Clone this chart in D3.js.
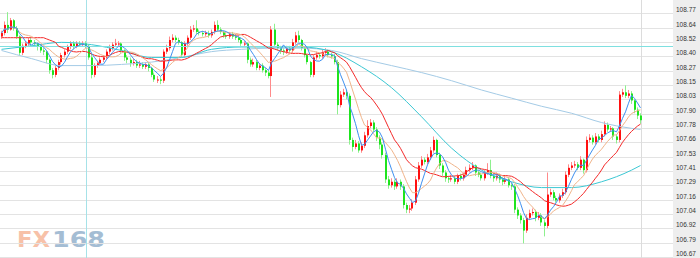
<!DOCTYPE html>
<html>
<head>
<meta charset="utf-8">
<script src="https://cdnjs.cloudflare.com/ajax/libs/d3/7.8.5/d3.min.js"></script>
<style>
  body { margin: 0; background: #fff; }
  svg { display: block; }
</style>
</head>
<body>
<div id="chart"></div>
<script>
// hourly candles (oldest first)
var opens = [
108.57,108.60,108.67,108.63,108.71,108.64,108.57,108.43,108.49,108.51,
108.54,108.52,108.51,108.48,108.45,108.44,108.37,108.28,108.24,108.30,
108.35,108.41,108.44,108.48,108.51,108.48,108.51,108.50,108.51,108.49,
108.39,108.24,108.32,108.34,108.37,108.39,108.44,108.47,108.50,108.51,
108.51,108.45,108.39,108.37,108.34,108.35,108.32,108.33,108.31,108.33,
108.30,108.24,108.20,108.20,108.19,108.44,108.47,108.54,108.56,108.54,
108.52,108.41,108.51,108.56,108.63,108.64,108.61,108.60,108.59,108.60,
108.58,108.61,108.67,108.63,108.61,108.58,108.57,108.59,108.57,108.56,
108.54,108.51,108.51,108.37,108.33,108.35,108.30,108.32,108.28,108.26,
108.23,108.63,108.50,108.47,108.45,108.44,108.47,108.45,108.52,108.58,
108.54,108.47,108.41,108.35,108.24,108.39,108.41,108.40,108.43,108.44,
108.41,108.40,108.35,107.98,108.07,108.09,108.06,107.68,107.62,107.65,
107.59,107.63,107.72,107.80,107.83,107.77,107.70,107.64,107.55,107.34,
107.29,107.32,107.28,107.32,107.28,107.12,107.08,107.09,107.14,107.34,
107.46,107.51,107.49,107.53,107.59,107.68,107.55,107.46,107.40,107.35,
107.34,107.35,107.32,107.37,107.35,107.38,107.42,107.44,107.46,107.40,
107.38,107.35,107.40,107.42,107.37,107.35,107.37,107.34,107.32,107.34,
107.29,107.28,107.08,107.03,106.99,106.90,107.01,107.05,107.06,107.01,
107.03,106.97,106.94,107.21,107.23,107.18,107.16,107.20,107.23,107.38,
107.44,107.46,107.47,107.44,107.51,107.42,107.68,107.70,107.66,107.71,
107.68,107.73,107.81,107.77,107.78,107.71,107.68,108.07,108.09,108.06,
108.08,108.02,107.94,107.89
];
var highs = [
108.62,108.70,108.78,108.73,108.72,108.66,108.58,108.51,108.53,108.56,
108.56,108.54,108.52,108.50,108.47,108.45,108.38,108.30,108.32,108.37,
108.43,108.46,108.50,108.53,108.53,108.53,108.53,108.53,108.53,108.50,
108.43,108.34,108.36,108.39,108.41,108.46,108.50,108.52,108.55,108.53,
108.52,108.46,108.41,108.39,108.38,108.37,108.36,108.35,108.35,108.35,
108.31,108.26,108.23,108.22,108.46,108.50,108.57,108.59,108.58,108.56,
108.53,108.53,108.58,108.66,108.67,108.71,108.63,108.62,108.62,108.62,
108.63,108.70,108.71,108.65,108.62,108.60,108.61,108.61,108.59,108.58,
108.56,108.53,108.52,108.39,108.38,108.37,108.34,108.34,108.30,108.28,
108.66,108.68,108.52,108.49,108.47,108.49,108.49,108.55,108.61,108.62,
108.55,108.48,108.42,108.36,108.41,108.44,108.43,108.46,108.47,108.46,
108.43,108.42,108.37,108.10,108.12,108.11,108.08,107.70,107.68,107.67,
107.66,107.75,107.85,107.86,107.85,107.79,107.72,107.66,107.57,107.37,
107.35,107.34,107.35,107.34,107.30,107.14,107.12,107.17,107.37,107.49,
107.54,107.53,107.56,107.62,107.71,107.69,107.57,107.48,107.42,107.37,
107.38,107.37,107.39,107.39,107.40,107.45,107.47,107.49,107.47,107.42,
107.40,107.42,107.48,107.51,107.39,107.40,107.39,107.36,107.37,107.36,
107.31,107.30,107.10,107.05,107.01,107.04,107.08,107.09,107.08,107.06,
107.05,106.99,107.40,107.26,107.25,107.20,107.22,107.26,107.41,107.47,
107.49,107.50,107.49,107.54,107.52,107.71,107.73,107.72,107.74,107.73,
107.76,107.84,107.83,107.80,107.79,107.73,108.10,108.12,108.15,108.11,
108.10,108.03,107.96,107.91
];
var lows = [
108.55,108.58,108.60,108.62,108.62,108.55,108.41,108.41,108.47,108.49,
108.49,108.48,108.45,108.43,108.41,108.34,108.25,108.21,108.22,108.28,
108.33,108.39,108.42,108.46,108.46,108.47,108.48,108.48,108.47,108.37,
108.21,108.22,108.30,108.32,108.35,108.37,108.42,108.45,108.48,108.49,
108.43,108.36,108.34,108.31,108.32,108.30,108.30,108.29,108.29,108.27,
108.22,108.18,108.17,108.16,108.17,108.42,108.45,108.52,108.52,108.50,
108.39,108.39,108.49,108.54,108.61,108.59,108.58,108.57,108.57,108.56,
108.56,108.59,108.61,108.59,108.56,108.55,108.55,108.55,108.54,108.52,
108.49,108.48,108.34,108.31,108.31,108.28,108.28,108.26,108.23,108.21,
108.05,108.48,108.45,108.42,108.41,108.42,108.43,108.43,108.50,108.52,
108.45,108.39,108.33,108.22,108.22,108.37,108.38,108.38,108.41,108.39,
108.38,108.33,107.90,107.96,108.05,108.03,107.64,107.58,107.60,107.57,
107.57,107.61,107.70,107.78,107.75,107.67,107.60,107.52,107.31,107.26,
107.27,107.25,107.26,107.25,107.09,107.05,107.05,107.07,107.12,107.32,
107.44,107.47,107.47,107.51,107.57,107.53,107.43,107.37,107.32,107.31,
107.32,107.30,107.30,107.33,107.33,107.36,107.40,107.42,107.37,107.36,
107.33,107.33,107.38,107.35,107.32,107.33,107.31,107.29,107.30,107.27,
107.25,107.05,107.00,106.96,106.79,106.88,106.99,107.03,106.98,106.99,
106.94,106.85,106.92,107.19,107.16,107.14,107.14,107.18,107.21,107.36,
107.42,107.44,107.42,107.42,107.39,107.40,107.66,107.64,107.64,107.66,
107.66,107.71,107.75,107.75,107.68,107.65,107.66,108.05,108.04,108.04,
107.99,107.91,107.86,107.82
];
var closes = [
108.60,108.67,108.63,108.71,108.64,108.57,108.43,108.49,108.51,108.54,
108.52,108.51,108.48,108.45,108.44,108.37,108.28,108.24,108.30,108.35,
108.41,108.44,108.48,108.51,108.48,108.51,108.50,108.51,108.49,108.39,
108.24,108.32,108.34,108.37,108.39,108.44,108.47,108.50,108.51,108.51,
108.45,108.39,108.37,108.34,108.35,108.32,108.33,108.31,108.33,108.30,
108.24,108.20,108.20,108.19,108.44,108.47,108.54,108.56,108.54,108.52,
108.41,108.51,108.56,108.63,108.64,108.61,108.60,108.59,108.60,108.58,
108.61,108.67,108.63,108.61,108.58,108.57,108.59,108.57,108.56,108.54,
108.51,108.51,108.37,108.33,108.35,108.30,108.32,108.28,108.26,108.23,
108.63,108.50,108.47,108.45,108.44,108.47,108.45,108.52,108.58,108.54,
108.47,108.41,108.35,108.24,108.39,108.41,108.40,108.43,108.44,108.41,
108.40,108.35,107.98,108.07,108.09,108.06,107.68,107.62,107.65,107.59,
107.63,107.72,107.80,107.83,107.77,107.70,107.64,107.55,107.34,107.29,
107.32,107.28,107.32,107.28,107.12,107.08,107.09,107.14,107.34,107.46,
107.51,107.49,107.53,107.59,107.68,107.55,107.46,107.40,107.35,107.34,
107.35,107.32,107.37,107.35,107.38,107.42,107.44,107.46,107.40,107.38,
107.35,107.40,107.42,107.37,107.35,107.37,107.34,107.32,107.34,107.29,
107.28,107.08,107.03,106.99,106.90,107.01,107.05,107.06,107.01,107.03,
106.97,106.94,107.21,107.23,107.18,107.16,107.20,107.23,107.38,107.44,
107.46,107.47,107.44,107.51,107.42,107.68,107.70,107.66,107.71,107.68,
107.73,107.81,107.77,107.78,107.71,107.68,108.07,108.09,108.06,108.08,
108.02,107.94,107.89,107.85
];

// MA20 values before a full window exists
var ma20Lead = [108.56,108.56,108.56,108.56,108.56,108.56,108.56,108.56,108.56,108.56,
                108.56,108.56,108.56,108.56,108.56,108.55,108.54,108.53,108.52];

// long averages, read every 10 candles
var longIdx = [0,10,20,30,40,50,60,70,80,90,100,110,120,130,140,150,160,170,180,190,200,210,213];
var ma60 = [108.46,108.49,108.52,108.50,108.45,108.39,108.39,108.46,108.48,108.48,108.48,108.44,
            108.31,108.13,107.88,107.61,107.42,107.32,107.27,107.27,107.32,107.42,107.46];
var ma144 = [108.45,108.38,108.32,108.32,108.33,108.35,108.39,108.44,108.46,108.47,108.47,108.45,
             108.38,108.32,108.26,108.19,108.11,108.04,107.97,107.91,107.83,107.78,107.77];

var yTicks = [108.77,108.64,108.52,108.40,108.27,108.15,108.03,107.90,107.78,
              107.66,107.53,107.41,107.29,107.16,107.04,106.92,106.79,106.67];
var refLevel = 108.49;
var dividers = [28.2, 213.2];

var width = 700, height = 258, plotRight = 673;

var svg = d3.select("#chart").append("svg")
    .attr("width", width)
    .attr("height", height);

var x = d3.scaleLinear().domain([0, closes.length - 1]).range([1.5, 640.5]);
var y = d3.scaleLinear().domain([106.67, 108.77]).range([257.3, 13.3]);

function movingAvg(n, lead) {
  return closes.map(function(c, i) {
    if (i < n - 1) return lead ? lead[i] : d3.mean(closes.slice(0, i + 1));
    return d3.mean(closes.slice(i - n + 1, i + 1));
  });
}

// watermark
var wm = svg.append("g").attr("opacity", 0.7);
wm.append("text").attr("x", 17).attr("y", 247)
  .attr("textLength", 33).attr("lengthAdjust", "spacingAndGlyphs")
  .style("font", "bold 21px 'DejaVu Sans'").style("fill", "#f4a784").text("FX");
wm.append("text").attr("x", 52).attr("y", 247)
  .attr("textLength", 53).attr("lengthAdjust", "spacingAndGlyphs")
  .style("font", "bold 21px 'DejaVu Sans'").style("fill", "#7ea2c2").text("168");

// grid
svg.selectAll(".grid").data(yTicks).enter().append("line")
  .attr("x1", 0).attr("x2", plotRight)
  .attr("y1", function(d){ return Math.round(y(d)) + 0.5; })
  .attr("y2", function(d){ return Math.round(y(d)) + 0.5; })
  .style("stroke", "#e3e3e3");

svg.selectAll(".divider").data(dividers).enter().append("line")
  .attr("x1", function(d){ return Math.round(x(d)) + 0.5; })
  .attr("x2", function(d){ return Math.round(x(d)) + 0.5; })
  .attr("y1", 0).attr("y2", height)
  .style("stroke", function(d,i){ return i == 0 ? "#a6e2e8" : "#dcdcdc"; });

// candles
var candles = svg.append("g").selectAll("g")
  .data(closes).enter().append("g");

candles.append("rect")
  .attr("x", function(d,i){ return Math.round(x(i) - 1); })
  .attr("width", 1)
  .attr("y", function(d,i){ return y(highs[i]); })
  .attr("height", function(d,i){ return Math.max(1, y(lows[i]) - y(highs[i])); })
  .style("fill", function(d,i){ return d >= opens[i] ? "#ff8a8a" : "#8ef08e"; });

candles.append("rect")
  .attr("x", function(d,i){ return Math.round(x(i) - 1); })
  .attr("width", 2)
  .attr("y", function(d,i){ return y(Math.max(d, opens[i])); })
  .attr("height", function(d,i){ return Math.max(1, Math.abs(y(d) - y(opens[i]))); })
  .style("fill", function(d,i){ return d >= opens[i] ? "#ff1010" : "#1ee41e"; });

// moving averages
var line = d3.line()
  .x(function(d){ return x(d[0]); })
  .y(function(d){ return y(d[1]); });

var smooth = d3.line()
  .curve(d3.curveMonotoneX)
  .x(function(d){ return x(d[0]); })
  .y(function(d){ return y(d[1]); });

svg.append("path")
  .attr("d", smooth(longIdx.map(function(k,i){ return [k, ma144[i]]; })))
  .style("fill", "none").style("stroke", "#a4cbe6").style("stroke-width", 1);

svg.append("path")
  .attr("d", smooth(longIdx.map(function(k,i){ return [k, ma60[i]]; })))
  .style("fill", "none").style("stroke", "#3cc8d4").style("stroke-width", 1);

svg.append("line")
  .attr("x1", 0).attr("x2", width)
  .attr("y1", Math.round(y(refLevel)) + 0.5).attr("y2", Math.round(y(refLevel)) + 0.5)
  .style("stroke", "#7fe0e0");

svg.append("path")
  .attr("d", line(movingAvg(20, ma20Lead).map(function(v,i){ return [i, v]; })))
  .style("fill", "none").style("stroke", "#f42a2a").style("stroke-width", 1);

svg.append("path")
  .attr("d", line(movingAvg(10).map(function(v,i){ return [i, v]; })))
  .style("fill", "none").style("stroke", "#f0b48a").style("stroke-width", 1);

svg.append("path")
  .attr("d", line(movingAvg(5).map(function(v,i){ return [i, v]; })))
  .style("fill", "none").style("stroke", "#3d8ff0").style("stroke-width", 1);

// price axis on the right
svg.append("rect")
  .attr("x", plotRight).attr("y", 0)
  .attr("width", width - plotRight).attr("height", height)
  .style("fill", "#eeeeee");

var axis = svg.append("g")
  .attr("transform", "translate(" + plotRight + ",0)")
  .call(d3.axisRight(y).tickValues(yTicks).tickFormat(d3.format(".2f")).tickSize(0).tickPadding(3));

axis.select(".domain").remove();
axis.selectAll("text")
  .attr("dy", "-0.25em")
  .style("font-family", "'Liberation Sans', Arial, sans-serif")
  .style("font-size", "6.5px")
  .style("fill", "#333");
</script>
</body>
</html>
